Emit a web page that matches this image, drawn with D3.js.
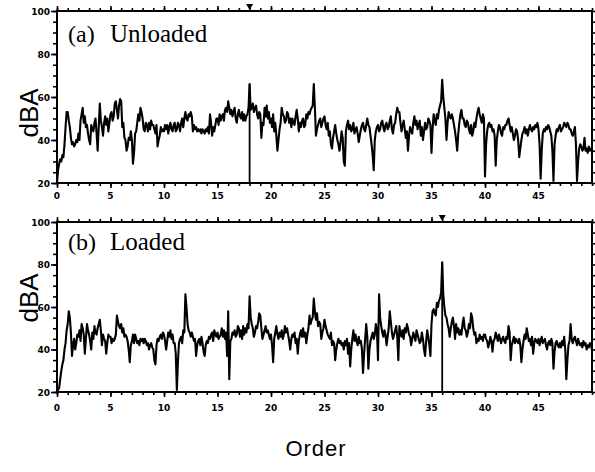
<!DOCTYPE html>
<html>
<head>
<meta charset="utf-8">
<script src="https://cdn.jsdelivr.net/npm/d3@7"></script>
<style>
body { margin: 0; background: #fff; }
svg { display: block; }
</style>
</head>
<body>
<svg id="chart" width="595" height="472"></svg>
<script>
// spectra sampled every 0.1 order, 0 .. 50
var step = 0.1;
var xTicks = [0, 5, 10, 15, 20, 25, 30, 35, 40, 45];
var yTicks = [20, 40, 60, 80, 100];
var panelTags = ["(a)", "(b)"];
var panelNames = ["Unloaded", "Loaded"];
var markOrders = [18, 36];

var unloaded = [
  20, 26, 29, 31, 30, 33, 32, 38, 46, 53,
  53, 49, 46, 41, 38, 39, 37, 38, 40, 39,
  43, 40, 49, 52, 55, 48, 51, 46, 47, 43,
  40, 38, 47, 45, 44, 48, 50, 43, 35, 46,
  57, 49, 46, 42, 48, 51, 47, 50, 44, 48,
  52, 53, 49, 51, 57, 58, 54, 50, 56, 59,
  58, 46, 48, 41, 40, 35, 37, 41, 40, 44,
  40, 29, 34, 43, 44, 48, 52, 49, 55, 53,
  50, 45, 44, 48, 47, 44, 48, 45, 49, 47,
  47, 45, 43, 47, 37, 40, 42, 46, 44, 45,
  44, 47, 45, 47, 43, 46, 48, 45, 44, 47,
  48, 44, 45, 48, 47, 44, 48, 50, 46, 50,
  53, 50, 49, 52, 51, 53, 51, 44, 47, 45,
  46, 44, 45, 44, 45, 43, 45, 44, 43, 45,
  44, 46, 43, 52, 48, 42, 46, 44, 47, 50,
  50, 47, 52, 49, 51, 52, 49, 54, 55, 53,
  58, 55, 52, 54, 51, 53, 55, 50, 48, 52,
  54, 51, 50, 53, 49, 52, 49, 51, 52, 55,
  66, 54, 55, 57, 53, 55, 56, 52, 50, 53,
  52, 41, 48, 47, 55, 51, 56, 50, 53, 48,
  50, 46, 52, 44, 48, 42, 35, 40, 45, 48,
  55, 52, 51, 48, 49, 53, 52, 48, 50, 46,
  50, 48, 47, 51, 54, 50, 44, 48, 46, 49,
  50, 46, 47, 52, 50, 53, 52, 54, 55, 56,
  66, 55, 42, 45, 47, 49, 50, 46, 48, 50,
  51, 47, 45, 48, 42, 44, 38, 36, 41, 44,
  47, 43, 40, 38, 35, 39, 44, 41, 30, 28,
  44, 47, 49, 45, 47, 44, 45, 48, 43, 45,
  46, 43, 39, 42, 45, 47, 48, 45, 44, 47,
  50, 47, 46, 42, 38, 33, 26, 40, 44, 46,
  47, 44, 45, 48, 49, 46, 44, 47, 48, 45,
  46, 49, 51, 45, 43, 47, 48, 52, 55, 53,
  53, 48, 44, 47, 49, 45, 41, 44, 35, 42,
  46, 44, 43, 48, 51, 47, 49, 45, 47, 49,
  42, 46, 40, 44, 48, 45, 46, 50, 49, 47,
  34, 45, 52, 49, 47, 52, 50, 54, 56, 58,
  68, 60, 55, 50, 40, 48, 53, 51, 50, 52,
  50, 47, 44, 40, 35, 43, 48, 52, 54, 50,
  50, 47, 46, 49, 48, 45, 43, 47, 42, 44,
  48, 46, 50, 53, 55, 52, 50, 48, 52, 50,
  23, 38, 44, 47, 48, 46, 47, 44, 45, 42,
  28, 40, 44, 47, 46, 43, 42, 46, 45, 47,
  47, 49, 50, 47, 44, 46, 43, 40, 42, 45,
  44, 40, 32, 36, 40, 43, 44, 46, 43, 45,
  42, 45, 47, 45, 44, 46, 45, 47, 46, 48,
  45, 38, 22, 35, 43, 45, 44, 46, 45, 47,
  46, 44, 42, 35, 21, 38, 42, 45, 44, 46,
  47, 44, 45, 46, 48, 47, 46, 48, 47, 45,
  45, 43, 42, 44, 46, 38, 21, 30, 36, 38,
  37, 35, 36, 41, 35, 36, 34, 37, 35, 36,
  35
];

var loaded = [
  20, 21, 22, 26, 30, 33, 35, 40, 43, 49,
  52, 58, 55, 48, 37, 42, 45, 40, 43, 47,
  46, 49, 44, 52, 50, 47, 38, 45, 52, 49,
  47, 44, 40, 48, 45, 51, 48, 47, 50, 52,
  54, 49, 42, 47, 45, 44, 38, 43, 47, 46,
  46, 43, 45, 44, 45, 47, 56, 53, 51, 50,
  52, 48, 50, 46, 47, 46, 44, 40, 34, 42,
  44, 47, 43, 47, 45, 43, 44, 42, 45, 44,
  45, 43, 45, 44, 42, 43, 40, 42, 43, 41,
  40, 35, 33, 42, 45, 44, 46, 47, 45, 48,
  47, 44, 40, 44, 48, 46, 49, 45, 47, 43,
  43, 38, 21, 34, 43, 45, 46, 43, 49, 48,
  66, 60, 52, 49, 48, 46, 48, 46, 44, 45,
  37, 42, 44, 45, 42, 46, 43, 39, 37, 42,
  44, 43, 46, 45, 47, 48, 44, 49, 47, 46,
  48, 45, 46, 47, 50, 46, 49, 45, 48, 37,
  58, 26, 44, 45, 48, 47, 49, 46, 47, 51,
  50, 46, 49, 45, 51, 47, 50, 48, 52, 50,
  65, 55, 52, 50, 46, 48, 51, 50, 53, 57,
  56, 50, 45, 47, 49, 51, 48, 49, 47, 45,
  47, 42, 34, 45, 48, 51, 47, 45, 48, 46,
  49, 45, 47, 51, 48, 50, 47, 44, 40, 45,
  47, 46, 48, 43, 45, 38, 44, 47, 49, 46,
  50, 46, 48, 43, 47, 50, 56, 52, 54, 55,
  64, 58, 54, 57, 51, 53, 52, 45, 48, 50,
  54, 51, 49, 47, 46, 45, 48, 42, 44, 43,
  35, 40, 43, 45, 43, 44, 42, 43, 40, 44,
  42, 45, 38, 43, 32, 40, 45, 49, 44, 47,
  44, 42, 46, 43, 44, 40, 29, 38, 45, 52,
  46, 31, 40, 44, 46, 48, 45, 47, 52, 49,
  35, 66, 55, 51, 48, 46, 49, 47, 42, 46,
  50, 58, 53, 48, 45, 47, 49, 51, 46, 35,
  51, 48, 46, 49, 45, 50, 48, 52, 50, 47,
  46, 42, 45, 48, 46, 44, 49, 47, 45, 43,
  44, 48, 45, 40, 37, 44, 49, 46, 42, 37,
  52, 58, 59, 57, 56, 62, 60, 63, 64, 67,
  81, 66, 60, 56, 55, 52, 50, 46, 50, 53,
  55, 51, 45, 52, 48, 50, 47, 49, 47, 52,
  55, 50, 49, 46, 48, 52, 50, 57, 55, 50,
  47, 48, 43, 45, 44, 47, 45, 46, 44, 47,
  47, 45, 44, 41, 43, 46, 44, 39, 44, 45,
  48, 46, 44, 47, 45, 43, 45, 46, 44, 43,
  46, 45, 51, 48, 35, 42, 44, 46, 43, 45,
  44, 43, 45, 42, 34, 40, 44, 47, 45, 50,
  47, 44, 45, 42, 46, 38, 43, 45, 44, 43,
  45, 42, 44, 46, 43, 44, 45, 42, 40, 43,
  44, 42, 45, 43, 31, 39, 43, 44, 42, 41,
  43, 41, 44, 42, 46, 40, 26, 35, 42, 44,
  52, 45, 43, 45, 46, 44, 42, 45, 43, 42,
  43, 41, 44, 42, 43, 40, 42, 41, 43, 42,
  40
];

var svg = d3.select("#chart");

var x = d3.scaleLinear().domain([0, 50]).range([57, 592]);

var panels = [
  {data: unloaded, top: 11, bottom: 183, labelY: 199, tag: panelTags[0], name: panelNames[0], mark: markOrders[0], nameY: 42, dbaY: 113},
  {data: loaded, top: 222, bottom: 392, labelY: 411, tag: panelTags[1], name: panelNames[1], mark: markOrders[1], nameY: 250, dbaY: 298}
];

panels.forEach(function(p) {
  var y = d3.scaleLinear().domain([20, 100]).range([p.bottom, p.top]);
  var g = svg.append("g");

  // minor and major ticks on all four sides
  function ticks(axis, tr) {
    var a = g.append("g").attr("transform", tr).call(axis);
    a.select(".domain").remove();
    a.selectAll("line").attr("stroke", "#000").attr("stroke-width", 1.6);
    return a;
  }
  var minorX = d3.range(0, 51, 1), minorY = d3.range(20, 101, 5);
  ticks(d3.axisBottom(x).tickValues(minorX).tickSize(3).tickFormat(""), "translate(0," + p.bottom + ")");
  ticks(d3.axisTop(x).tickValues(minorX).tickSize(3).tickFormat(""), "translate(0," + p.top + ")");
  ticks(d3.axisBottom(x).tickValues(xTicks).tickSize(5).tickFormat(""), "translate(0," + p.bottom + ")");
  ticks(d3.axisTop(x).tickValues(xTicks).tickSize(5).tickFormat(""), "translate(0," + p.top + ")");
  ticks(d3.axisLeft(y).tickValues(minorY).tickSize(4).tickFormat(""), "translate(57,0)");
  ticks(d3.axisRight(y).tickValues(minorY).tickSize(3).tickFormat(""), "translate(592,0)");
  ticks(d3.axisLeft(y).tickValues(yTicks).tickSize(6).tickFormat(""), "translate(57,0)");

  // tick labels
  g.selectAll(".xl").data(xTicks).enter().append("text")
    .attr("x", function(d) { return x(d); })
    .attr("y", p.labelY)
    .attr("text-anchor", "middle")
    .style("font", "bold 9px 'DejaVu Sans'")
    .text(function(d) { return d; });
  g.selectAll(".yl").data(yTicks).enter().append("text")
    .attr("x", 50)
    .attr("y", function(d) { return y(d) + 3.5; })
    .attr("text-anchor", "end")
    .style("font", "bold 9px 'DejaVu Sans'")
    .text(function(d) { return d; });

  // frame
  g.append("rect")
    .attr("x", x(0)).attr("y", p.top)
    .attr("width", x(50) - x(0)).attr("height", p.bottom - p.top)
    .attr("fill", "none").attr("stroke", "#000").attr("stroke-width", 2);

  // spectrum
  var line = d3.line()
    .x(function(d, i) { return x(i * step); })
    .y(function(d) { return y(d); });
  g.append("path")
    .datum(p.data)
    .attr("d", line)
    .attr("fill", "none")
    .attr("stroke", "#000")
    .attr("stroke-width", 2.1)
    .attr("stroke-linejoin", "round");

  // marked order: drop line and triangle
  var peak = p.data[Math.round(p.mark / step)];
  g.append("line")
    .attr("x1", x(p.mark)).attr("x2", x(p.mark))
    .attr("y1", y(peak)).attr("y2", y(20))
    .attr("stroke", "#000").attr("stroke-width", 1.8);
  g.append("path")
    .attr("d", "M" + (x(p.mark) - 3.5) + "," + (p.top - 7) + "h7l-3.5,6z")
    .attr("fill", "#000");

  // panel title
  var t = g.append("text")
    .attr("y", p.nameY)
    .style("font-family", "'Liberation Serif'")
    .style("font-size", "24px");
  t.append("tspan").attr("x", 68).text(p.tag);
  t.append("tspan").attr("x", 110).style("font-size", "25px").text(p.name);

  g.append("text")
    .attr("transform", "translate(38," + p.dbaY + ") rotate(-90)")
    .attr("text-anchor", "middle")
    .style("font", "26px 'Liberation Sans'")
    .text("dBA");
});

svg.append("text")
  .attr("x", 316).attr("y", 456)
  .attr("text-anchor", "middle")
  .style("font", "22px 'Liberation Sans'")
  .style("letter-spacing", "1px")
  .text("Order");
</script>
</body>
</html>
